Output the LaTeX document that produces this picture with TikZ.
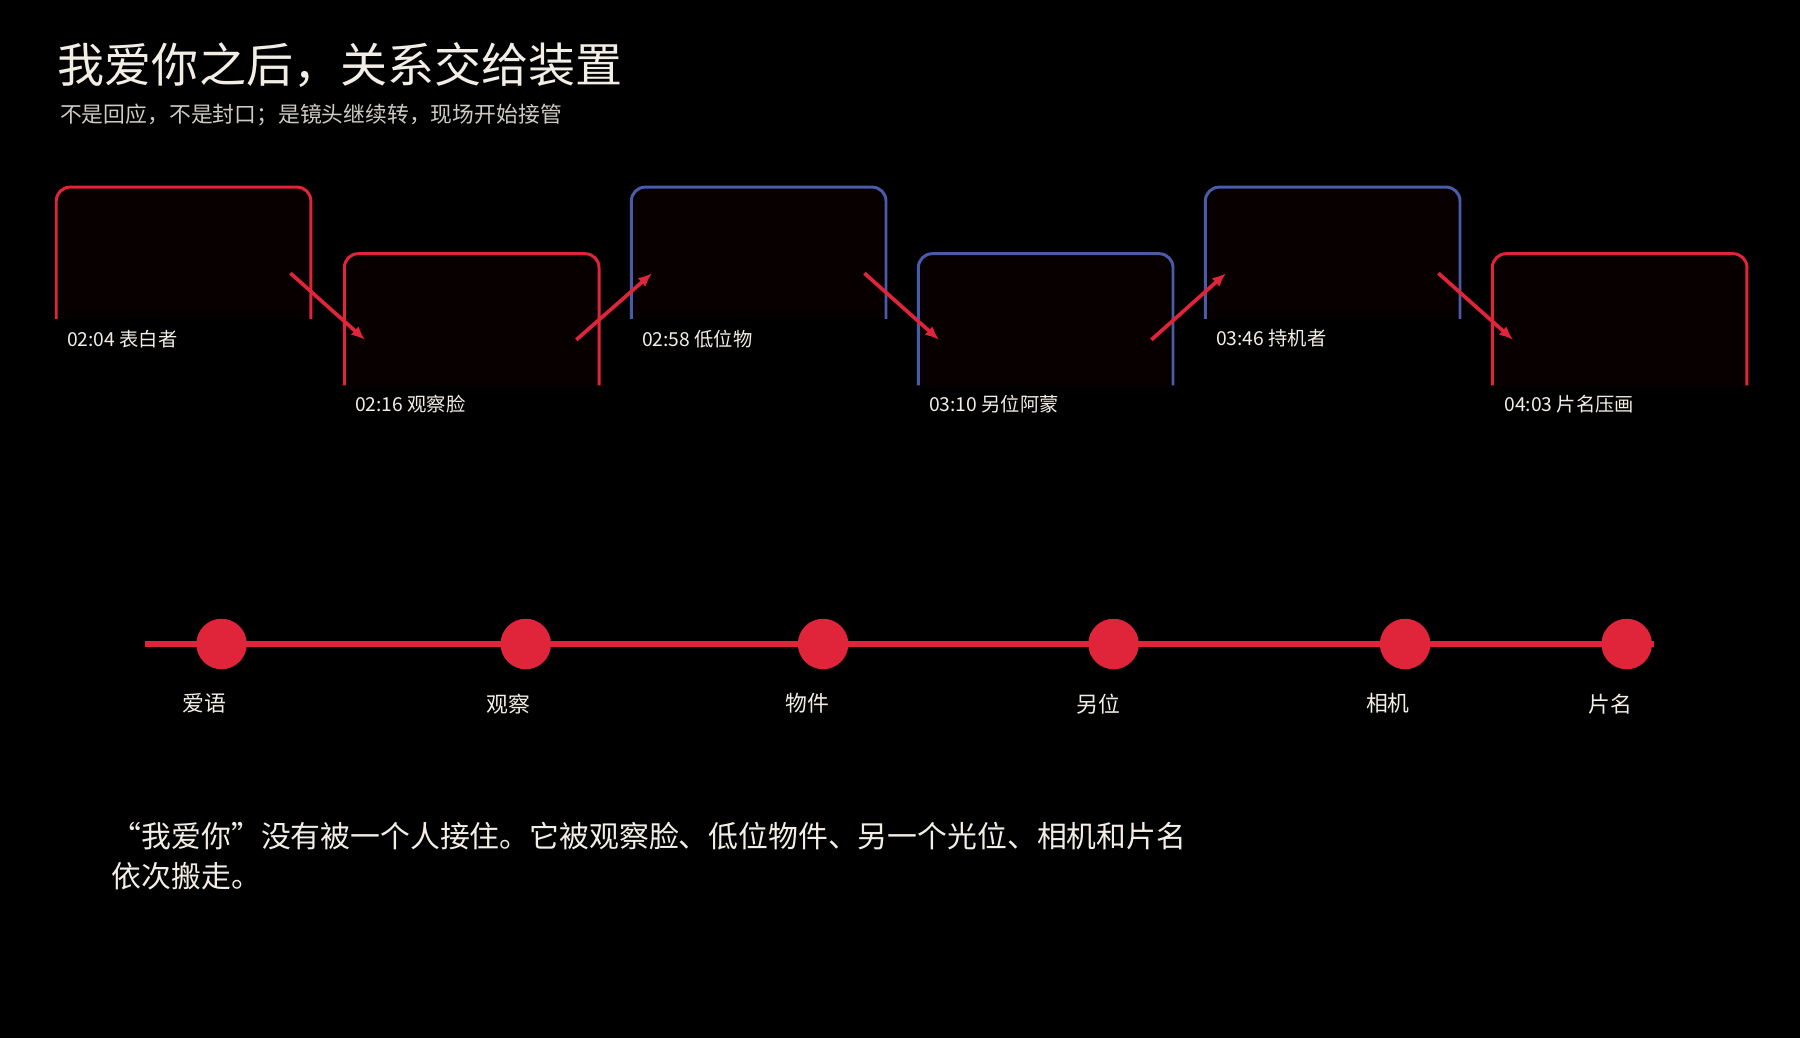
\documentclass[tikz,border=0pt]{standalone}
\usepackage{fontspec}
\setmainfont{Noto Sans CJK SC}
\usetikzlibrary{positioning,arrows.meta}
\definecolor{cutred}{HTML}{E0243A}
\definecolor{cutblue}{HTML}{4A5BA8}
\definecolor{paper}{HTML}{F2EEE6}
\tikzset{
  shot/.style={minimum width=110.5pt,minimum height=57pt,inner sep=0pt,fill=black!97!red},
  rim/.style={line width=1.3pt,rounded corners=6pt},
  shotlabel/.style={anchor=west,text=paper,font=\fontsize{8.4}{9}\selectfont,inner sep=0pt},
  hop/.style={cutred,line width=1.6pt,-{Latex[length=6pt,width=5pt]}},
  dot/.style={circle,fill=cutred,minimum size=22pt,inner sep=0pt},
  tag/.style={text=paper,font=\fontsize{9.5}{11}\selectfont,inner sep=0pt}
}
\begin{document}
\begin{tikzpicture}[x=0.5pt,y=-0.5pt]
\fill[black] (0,0) rectangle (1568,904);
\useasboundingbox (0,0) rectangle (1568,904);
% heading
\node[anchor=west,inner sep=0pt,text=paper,font=\fontsize{20.5}{24}\selectfont] (title) at (50,57) {我爱你之后，关系交给装置};
\node[anchor=west,inner sep=0pt,text=paper!85!black,font=\fontsize{9.5}{11}\selectfont] (sub) at (52,100) {不是回应，不是封口；是镜头继续转，现场开始接管};
% shots
\node[shot,anchor=north west] (f1) at (49,163) {};
\node[shot,anchor=north west] (f2) at (300,221) {};
\node[shot,anchor=north west] (f3) at (550,163) {};
\node[shot,anchor=north west] (f4) at (800,221) {};
\node[shot,anchor=north west] (f5) at (1050,163) {};
\node[shot,anchor=north west] (f6) at (1300,221) {};
\foreach \f/\c in {f1/cutred,f2/cutred,f3/cutblue,f4/cutblue,f5/cutblue,f6/cutred}
  \draw[rim,\c] (\f.south west) -- (\f.north west) -- (\f.north east) -- (\f.south east);
\node[shotlabel] (c1) at (58,295) {02:04 表白者};
\node[shotlabel] (c2) at (309,352) {02:16 观察脸};
\node[shotlabel] (c3) at (559,295) {02:58 低位物};
\node[shotlabel] (c4) at (809,352) {03:10 另位阿蒙};
\node[shotlabel] (c5) at (1059,295) {03:46 持机者};
\node[shotlabel] (c6) at (1310,352) {04:03 片名压画};
% hops between shots
\coordinate (h1a) at (253,238); \coordinate (h1b) at (318,296);
\coordinate (h2a) at (502,296); \coordinate (h2b) at (568,238);
\coordinate (h3a) at (753,238); \coordinate (h3b) at (818,296);
\coordinate (h4a) at (1003,296); \coordinate (h4b) at (1068,238);
\coordinate (h5a) at (1253,238); \coordinate (h5b) at (1318,296);
\foreach \i in {1,...,5}
  \draw[hop] (h\i a) -- (h\i b);
% timeline
\coordinate (t0) at (126,561);
\coordinate (t1) at (1441,561);
\draw[cutred,line width=2.2pt] (t0) -- (t1);
\foreach \n/\x/\lx/\t in {1/193/178/爱语,2/458/443/观察,3/717/703/物件,4/970/957/另位,5/1224/1209/相机,6/1417/1403/片名}{
  \node[dot] (d\n) at (\x,561) {};
  \node[tag] (l\n) at (\lx,613) {\t};
}
% closing words
\node[anchor=north west,inner sep=0pt,text=paper,align=left,font=\fontsize{13}{17.5}\selectfont] (note) at (97,716)
  {“我爱你”没有被一个人接住。它被观察脸、低位物件、另一个光位、相机和片名\\依次搬走。};
\end{tikzpicture}
\end{document}
